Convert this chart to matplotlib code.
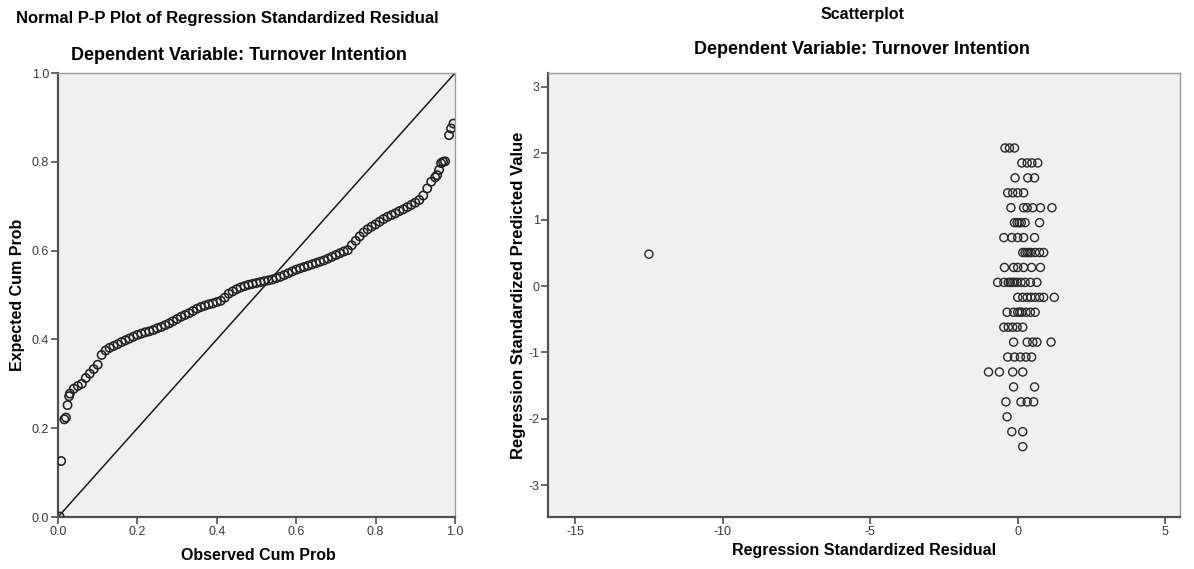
import matplotlib.pyplot as plt
from matplotlib.ticker import FormatStrFormatter

plt.rcParams['font.family'] = ['Liberation Sans', 'DejaVu Sans']
plt.rcParams['axes.unicode_minus'] = False

# --- Normal P-P plot (observed vs expected cumulative probability) ---
obs_cum_prob = [0.004, 0.008, 0.016, 0.020, 0.024, 0.028,
                0.03, 0.04, 0.05, 0.06, 0.07, 0.08, 0.09, 0.10,
                0.11, 0.12, 0.13, 0.14, 0.15, 0.16, 0.17, 0.18, 0.19, 0.20,
                0.21, 0.22, 0.23, 0.24, 0.25, 0.26, 0.27, 0.28, 0.29, 0.30,
                0.31, 0.32, 0.33, 0.34, 0.35, 0.36, 0.37, 0.38, 0.39, 0.40,
                0.41, 0.42, 0.43, 0.44, 0.45, 0.46, 0.47, 0.48, 0.49, 0.50,
                0.51, 0.52, 0.53, 0.54, 0.55, 0.56, 0.57, 0.58, 0.59, 0.60,
                0.61, 0.62, 0.63, 0.64, 0.65, 0.66, 0.67, 0.68, 0.69, 0.70,
                0.71, 0.72, 0.73, 0.74, 0.75, 0.76, 0.77, 0.78, 0.79, 0.80,
                0.81, 0.82, 0.83, 0.84, 0.85, 0.86, 0.87, 0.88, 0.89, 0.90,
                0.91, 0.92, 0.93, 0.94, 0.95, 0.955, 0.96, 0.965, 0.97, 0.975,
                0.985, 0.99, 0.996]
exp_cum_prob = [0.001, 0.126, 0.220, 0.224, 0.252, 0.272,
                0.278, 0.289, 0.295, 0.300, 0.313, 0.323, 0.333, 0.343,
                0.365, 0.375, 0.381, 0.385, 0.389, 0.394, 0.398, 0.402, 0.406, 0.410,
                0.413, 0.416, 0.418, 0.421, 0.425, 0.428, 0.432, 0.436, 0.441, 0.446,
                0.451, 0.455, 0.459, 0.464, 0.469, 0.473, 0.476, 0.479, 0.481, 0.484,
                0.487, 0.494, 0.503, 0.508, 0.513, 0.517, 0.520, 0.523, 0.525, 0.527,
                0.529, 0.531, 0.533, 0.535, 0.538, 0.541, 0.545, 0.549, 0.553, 0.557,
                0.560, 0.563, 0.566, 0.569, 0.572, 0.575, 0.578, 0.582, 0.586, 0.590,
                0.594, 0.598, 0.601, 0.612, 0.622, 0.632, 0.641, 0.648, 0.654, 0.659,
                0.665, 0.671, 0.676, 0.680, 0.684, 0.689, 0.693, 0.698, 0.703, 0.708,
                0.714, 0.724, 0.740, 0.755, 0.765, 0.770, 0.782, 0.797, 0.800, 0.801,
                0.860, 0.875, 0.886]

# --- Scatterplot (standardized residual vs standardized predicted value) ---
std_residual = [-0.43, -0.28, -0.11,
                0.14, 0.32, 0.48, 0.68,
                -0.09, 0.34, 0.57,
                -0.34, -0.17, 0.00, 0.20,
                -0.23, 0.20, 0.32, 0.51, 0.77, 1.16,
                -0.11, -0.02, 0.05, 0.12, 0.25, 0.74,
                -0.47, -0.20, 0.00, 0.20, 0.57,
                0.17, 0.25, 0.32, 0.38, 0.45, 0.59, 0.74, 0.88,
                -0.45, -0.14, 0.00, 0.20, 0.47, 0.77,
                -0.68, -0.47, -0.32, -0.25, -0.17, -0.10, -0.02, 0.11, 0.25, 0.43, 0.65,
                0.00, 0.17, 0.32, 0.45, 0.59, 0.74, 0.88, 1.24,
                -0.36, -0.14, 0.00, 0.07, 0.14, 0.28, 0.43, 0.59,
                -0.47, -0.32, -0.17, -0.02, 0.17,
                -0.14, 0.32, 0.51, 0.65, 1.13,
                -0.34, -0.11, 0.09, 0.28, 0.47,
                -0.99, -0.62, -0.17, 0.17,
                -0.14, 0.57,
                -0.40, 0.11, 0.32, 0.54,
                -0.36,
                -0.20, 0.17,
                0.17,
                -12.5]
std_predicted = [2.08, 2.08, 2.08,
                 1.855, 1.855, 1.855, 1.855,
                 1.63, 1.63, 1.63,
                 1.405, 1.405, 1.405, 1.405,
                 1.18, 1.18, 1.18, 1.18, 1.18, 1.18,
                 0.955, 0.955, 0.955, 0.955, 0.955, 0.955,
                 0.73, 0.73, 0.73, 0.73, 0.73,
                 0.505, 0.505, 0.505, 0.505, 0.505, 0.505, 0.505, 0.505,
                 0.28, 0.28, 0.28, 0.28, 0.28, 0.28,
                 0.055, 0.055, 0.055, 0.055, 0.055, 0.055, 0.055, 0.055, 0.055, 0.055, 0.055,
                 -0.17, -0.17, -0.17, -0.17, -0.17, -0.17, -0.17, -0.17,
                 -0.395, -0.395, -0.395, -0.395, -0.395, -0.395, -0.395, -0.395,
                 -0.62, -0.62, -0.62, -0.62, -0.62,
                 -0.845, -0.845, -0.845, -0.845, -0.845,
                 -1.07, -1.07, -1.07, -1.07, -1.07,
                 -1.295, -1.295, -1.295, -1.295,
                 -1.52, -1.52,
                 -1.745, -1.745, -1.745, -1.745,
                 -1.97,
                 -2.195, -2.195,
                 -2.42,
                 0.48]

pp_ticks = [0.0, 0.2, 0.4, 0.6, 0.8, 1.0]
sc_xticks = [-15, -10, -5, 0, 5]
sc_yticks = [-3, -2, -1, 0, 1, 2, 3]

W, H = 1194, 569
fig = plt.figure(figsize=(W / 100, H / 100), dpi=100)
ax1 = fig.add_axes([58 / W, 1 - 517 / H, 397 / W, 444 / H])
ax2 = fig.add_axes([548 / W, 1 - 517 / H, 632 / W, 444 / H])

for ax in (ax1, ax2):
    ax.set_facecolor('#F0F0F0')
    for side in ('left', 'bottom'):
        ax.spines[side].set_color('#505050')
        ax.spines[side].set_linewidth(1.6)
    for side in ('top', 'right'):
        ax.spines[side].set_color('#9A9A9A')
        ax.spines[side].set_linewidth(1.0)
    ax.tick_params(direction='out', length=5, width=1.2, colors='#505050',
                   labelcolor='#3A3A3A', labelsize=9, pad=1.5)

# P-P plot
ax1.plot([0, 1], [0, 1], color='#1A1A1A', linewidth=1.1, zorder=2)
ax1.scatter(obs_cum_prob, exp_cum_prob, s=36, facecolors='none',
            edgecolors='#222222', linewidths=1.15, zorder=3)
ax1.set_xlim(0, 1)
ax1.set_ylim(0, 1)
ax1.set_xticks(pp_ticks)
ax1.set_yticks(pp_ticks)
ax1.xaxis.set_major_formatter(FormatStrFormatter('%.1f'))
ax1.yaxis.set_major_formatter(FormatStrFormatter('%.1f'))

# Scatterplot
ax2.scatter(std_residual, std_predicted, s=34, facecolors='none',
            edgecolors='#2A2A2A', linewidths=1.0, zorder=3)
ax2.set_xlim(-15.92, 5.5)
ax2.set_ylim(-3.48, 3.21)
ax2.set_xticks(sc_xticks)
ax2.set_yticks(sc_yticks)
ax2.tick_params(axis='y', pad=1)

def ftext(x, y, s, **kw):
    fig.text(x / W, 1 - y / H, s, ha='center', va='center', **kw)

ftext(227, 18, 'Normal P-P Plot of Regression Standardized Residual',
      fontsize=12, fontweight='bold')
ftext(239, 56, 'Dependent Variable: Turnover Intention', fontsize=13, fontweight='bold')
ftext(18, 295, 'Expected Cum Prob', fontsize=11.5, fontweight='bold', rotation=90)
ftext(258, 556, 'Observed Cum Prob', fontsize=11.5, fontweight='bold')

ftext(862, 14, 'Scatterplot', fontsize=11.5, fontweight='bold')
ftext(862, 50, 'Dependent Variable: Turnover Intention', fontsize=13, fontweight='bold')
ftext(519, 295, 'Regression Standardized Predicted Value', fontsize=12,
      fontweight='bold', rotation=90)
ftext(864, 550, 'Regression Standardized Residual', fontsize=11.5, fontweight='bold')

fig.savefig('out.png', dpi=100)
